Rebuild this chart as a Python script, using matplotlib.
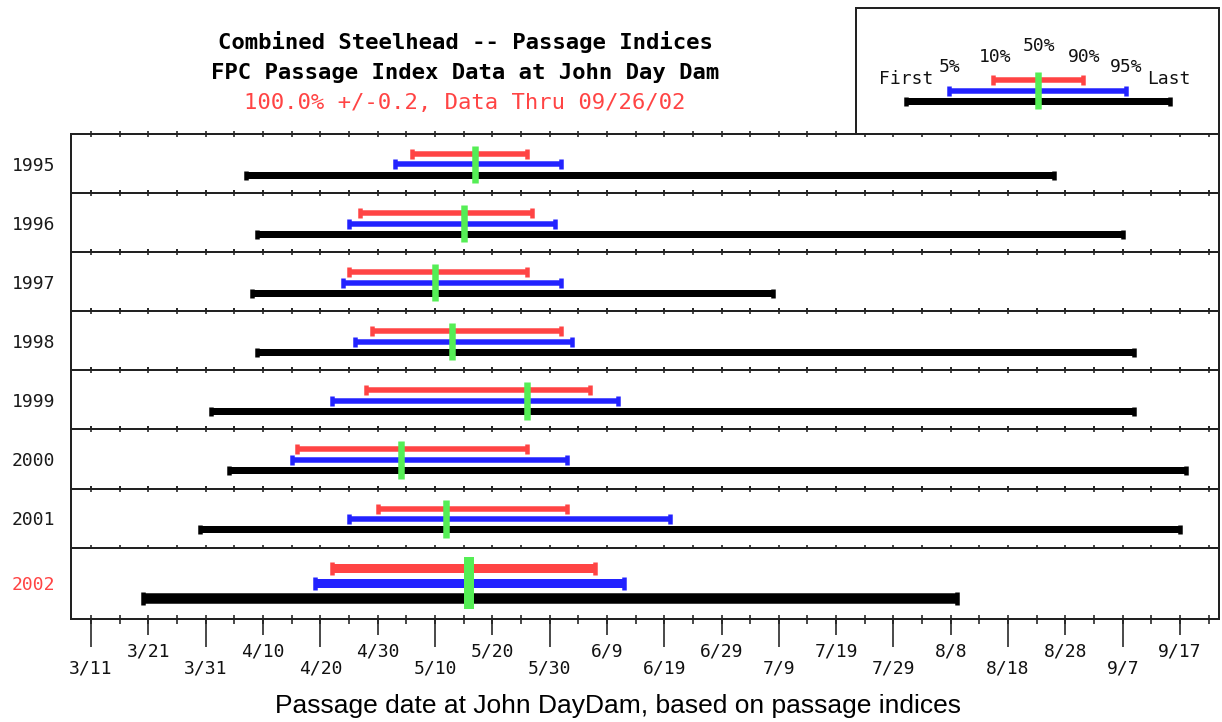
import datetime as dt
import matplotlib
matplotlib.use("Agg")
import matplotlib.pyplot as plt
from matplotlib.ticker import MultipleLocator, FixedLocator

# ---- passage index dates (month/day) per year ----
years = ["1995", "1996", "1997", "1998", "1999", "2000", "2001", "2002"]
first_day = ["4/7", "4/9", "4/8", "4/9", "4/1", "4/4", "3/30", "3/20"]
pct5 = ["5/3", "4/25", "4/24", "4/26", "4/22", "4/15", "4/25", "4/19"]
pct10 = ["5/6", "4/27", "4/25", "4/29", "4/28", "4/16", "4/30", "4/22"]
pct50 = ["5/17", "5/15", "5/10", "5/13", "5/26", "5/4", "5/12", "5/16"]
pct90 = ["5/26", "5/27", "5/26", "6/1", "6/6", "5/26", "6/2", "6/7"]
pct95 = ["6/1", "5/31", "6/1", "6/3", "6/11", "6/2", "6/20", "6/12"]
last_day = ["8/26", "9/7", "7/8", "9/9", "9/9", "9/18", "9/17", "8/9"]

# date axis labels, two staggered rows
upper_labels = ["3/21", "4/10", "4/30", "5/20", "6/9", "6/29", "7/19", "8/8", "8/28", "9/17"]
lower_labels = ["3/11", "3/31", "4/20", "5/10", "5/30", "6/19", "7/9", "7/29", "8/18", "9/7"]

title_lines = ["Combined Steelhead -- Passage Indices",
               "FPC Passage Index Data at John Day Dam",
               "100.0% +/-0.2, Data Thru 09/26/02"]
x_title = "Passage date at John DayDam, based on passage indices"

RED, BLUE, GREEN, BLACK = "#ff4444", "#2222ff", "#55ee55", "#000000"
EDGE = "#222222"
MONO = "DejaVu Sans Mono"


def doy(s):
    m, d = (int(v) for v in s.split("/"))
    return dt.date(2002, m, d).timetuple().tm_yday


W, H = 1222, 722
PX = 72 / 100.0  # points per pixel at 100 dpi
fig = plt.figure(figsize=(W / 100, H / 100), dpi=100)

left_px, right_px, top_px, bot_px = 71, 1219, 134, 618.5
heights = [59.2] * 7 + [71]
gs = fig.add_gridspec(len(years), 1, height_ratios=heights, hspace=0,
                      left=left_px / W, right=right_px / W,
                      top=1 - top_px / H, bottom=1 - bot_px / H)

x_lo = doy("3/11") - 3.5
x_hi = doy("3/11") + 196.8

# vertical layout of the bars inside a panel (pixels from panel top)
normal = dict(red=20, blue=30.5, black=41, g0=11.7, g1=49.3,
              lw_r=5.5, lw_b=5.5, lw_k=7, cap=10, cap_k=9, gw=6.5)
current = dict(red=20.5, blue=35.5, black=50.5, g0=9.5, g1=61.5,
               lw_r=9, lw_b=9, lw_k=10.5, cap=13, cap_k=13, gw=10)


def bar(ax, a, b, y, color, lw, cap):
    ax.plot([a, b], [y, y], color=color, lw=lw * PX, solid_capstyle="butt", zorder=3)
    ax.plot([a, b], [y, y], ls="none", marker="|", ms=cap * PX, mew=4.5 * PX,
            color=color, zorder=3)


axes = []
for i, yr in enumerate(years):
    ax = fig.add_subplot(gs[i])
    axes.append(ax)
    h = heights[i]
    L = current if i == len(years) - 1 else normal
    ax.set_xlim(x_lo, x_hi)
    ax.set_ylim(h, 0)

    bar(ax, doy(first_day[i]), doy(last_day[i]), L["black"], BLACK, L["lw_k"], L["cap_k"])
    bar(ax, doy(pct5[i]), doy(pct95[i]), L["blue"], BLUE, L["lw_b"], L["cap"])
    bar(ax, doy(pct10[i]), doy(pct90[i]), L["red"], RED, L["lw_r"], L["cap"])
    m = doy(pct50[i])
    ax.plot([m, m], [L["g0"], L["g1"]], color=GREEN, lw=L["gw"] * PX,
            solid_capstyle="butt", zorder=4)

    for sp in ax.spines.values():
        sp.set_color(EDGE)
        sp.set_linewidth(2 * PX)

    ax.set_yticks([h / 2])
    ax.set_yticklabels([yr], fontsize=13, family=MONO,
                       color=RED if i == len(years) - 1 else "#1a1a1a")
    ax.tick_params(axis="y", length=0, pad=16 * PX)

    ax.xaxis.set_major_locator(MultipleLocator(5))
    if i < len(years) - 1:
        ax.tick_params(axis="x", top=True, bottom=True, direction="inout",
                       length=6 * PX, width=1.6 * PX, color=EDGE,
                       labelbottom=False, labeltop=False)
    else:
        ax.tick_params(axis="x", top=False, bottom=True, direction="inout",
                       length=9 * PX, width=1.6 * PX, color=EDGE,
                       labelbottom=False)

bottom = axes[-1]
fmt_font = dict(fontsize=13, family=MONO, color="#111111")

sec_up = bottom.secondary_xaxis("bottom")
sec_up.xaxis.set_major_locator(FixedLocator([doy(s) for s in upper_labels]))
sec_up.set_xticklabels(upper_labels, **fmt_font)
sec_up.tick_params(axis="x", direction="out", length=16 * PX, width=1.6 * PX,
                   color=EDGE, pad=8 * PX)
sec_up.spines["bottom"].set_visible(False)

sec_lo = bottom.secondary_xaxis("bottom")
sec_lo.xaxis.set_major_locator(FixedLocator([doy(s) for s in lower_labels]))
sec_lo.set_xticklabels(lower_labels, **fmt_font)
sec_lo.tick_params(axis="x", direction="out", length=28 * PX, width=1.6 * PX,
                   color=EDGE, pad=13 * PX)
sec_lo.spines["bottom"].set_visible(False)

# titles
fig.text(465 / W, 1 - 42 / H, title_lines[0], ha="center", va="center",
         fontsize=16, family=MONO, weight="bold", color="#000000")
fig.text(465 / W, 1 - 73 / H, title_lines[1], ha="center", va="center",
         fontsize=16, family=MONO, weight="bold", color="#000000")
fig.text(465 / W, 1 - 103 / H, title_lines[2], ha="center", va="center",
         fontsize=16, family=MONO, color=RED)

fig.text(618 / W, 1 - 706 / H, x_title, ha="center", va="center",
         fontsize=19, family="Liberation Sans", color="#000000")

# key box explaining the bar layout
kx0, ky0, kx1, ky1 = 856, 8, 1219, 134
key = fig.add_axes([kx0 / W, 1 - ky1 / H, (kx1 - kx0) / W, (ky1 - ky0) / H])
key.set_xlim(0, kx1 - kx0)
key.set_ylim(ky1 - ky0, 0)
key.set_xticks([])
key.set_yticks([])
for sp in key.spines.values():
    sp.set_color(EDGE)
    sp.set_linewidth(2 * PX)

k_first, k_5, k_10, k_50, k_90, k_95, k_last = 50, 93, 137, 182, 227, 270, 314
bar(key, k_first, k_last, 92.7, BLACK, normal["lw_k"], normal["cap_k"])
bar(key, k_5, k_95, 82.7, BLUE, normal["lw_b"], normal["cap"])
bar(key, k_10, k_90, 72, RED, normal["lw_r"], normal["cap"])
key.plot([k_50, k_50], [63.7, 101.3], color=GREEN, lw=normal["gw"] * PX,
         solid_capstyle="butt", zorder=4)
kf = dict(fontsize=13, family=MONO, ha="center", va="center", color="#111111")
key.text(k_first, 71, "First", **kf)
key.text(k_5 + 1, 59.5, "5%", **kf)
key.text(k_10 + 2, 49.5, "10%", **kf)
key.text(k_50 + 0.5, 38, "50%", **kf)
key.text(k_90 + 1, 49.5, "90%", **kf)
key.text(k_95 + 0.5, 59.5, "95%", **kf)
key.text(k_last - 1, 71, "Last", **kf)

fig.savefig("out.png", dpi=100)
